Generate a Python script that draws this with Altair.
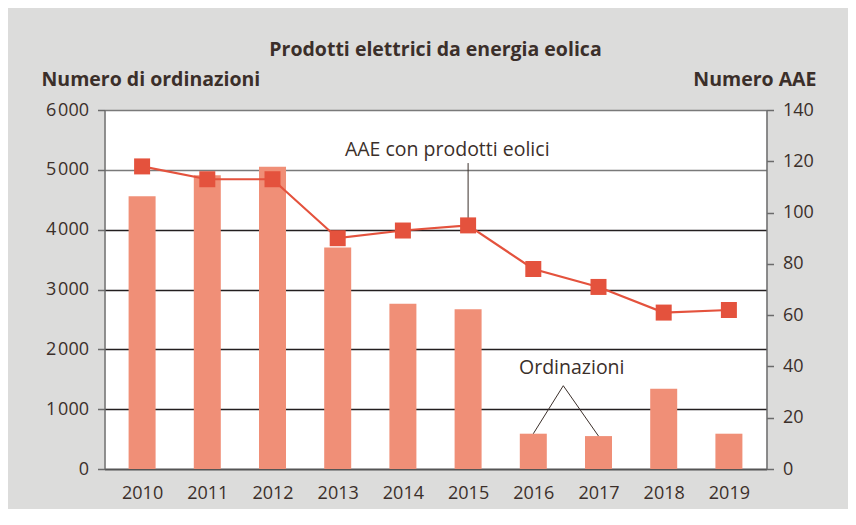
import altair as alt
import pandas as pd

# ---- data ----
years = [2010, 2011, 2012, 2013, 2014, 2015, 2016, 2017, 2018, 2019]
ordinazioni = [4560, 4910, 5050, 3700, 2760, 2670, 590, 550, 1340, 590]
aae = [118, 113, 113, 90, 93, 95, 78, 71, 61, 62]

left_ticks = [0, 1000, 2000, 3000, 4000, 5000, 6000]
right_ticks = [0, 20, 40, 60, 80, 100, 120, 140]

title_text = "Prodotti elettrici da energia eolica"
left_title = "Numero di ordinazioni"
right_title = "Numero AAE"

# annotations (data coordinates)
aae_label = ["AAE con prodotti eolici"]
aae_label_x = [2014.68]
aae_label_y = [124.4]
aae_leader_x = [2015]
aae_leader_y = [95]
aae_leader_y2 = [119.3]

ord_label = ["Ordinazioni"]
ord_label_x = [2016.59]
ord_label_y = [1693]
ord_leader_x = [2016, 2017]
ord_leader_y = [590, 550]
ord_apex_x = [2016.46, 2016.46]
ord_apex_y = [1392, 1392]

FONT = "Open Sans"
TXT = "#3b2f2a"
BAR = "#f08f77"
LINE = "#e4523d"

df = pd.DataFrame({"year": years, "ord": ordinazioni, "aae": aae})
df_aae_lab = pd.DataFrame({"year": aae_label_x, "aae": aae_label_y, "t": aae_label})
df_aae_lead = pd.DataFrame({"year": aae_leader_x, "aae": aae_leader_y, "aae2": aae_leader_y2})
df_ord_lab = pd.DataFrame({"year": ord_label_x, "ord": ord_label_y, "t": ord_label})
df_ord_lead = pd.DataFrame({"year": ord_leader_x, "ord": ord_leader_y,
                            "year2": ord_apex_x, "ord2": ord_apex_y})

xscale = alt.Scale(domain=[2009.5, 2019.5], nice=False, zero=False)
lscale = alt.Scale(domain=[0, 6000], nice=False)
rscale = alt.Scale(domain=[0, 140], nice=False)

x_axis = alt.Axis(values=years, format="d", title=None, grid=False, ticks=False,
                  domainColor="#555555", domainWidth=1.5, labelFont=FONT,
                  labelFontSize=18, labelColor=TXT, labelPadding=15)

left_axis = alt.Axis(
    values=left_ticks, title=left_title, orient="left",
    labelExpr="datum.value >= 1000 ? format(datum.value/1000,'d') + '\u200a000' : '0'",
    grid=True,
    gridColor={"condition": {"test": "datum.value >= 5000", "value": "#7a7a7a"},
               "value": "#231f20"},
    gridWidth=1.4,
    domainColor="#6b6b6b", domainWidth=1.5,
    tickColor="#6b6b6b", tickSize=7, tickWidth=1.5,
    labelFont=FONT, labelFontSize=18, labelColor=TXT, labelPadding=9,
    titleFont=FONT, titleFontSize=19.5, titleFontWeight="bold", titleColor=TXT,
    titleAngle=0, titleAlign="left", titleBaseline="alphabetic",
    titleX=-63.5, titleY=-25,
)

right_axis = alt.Axis(
    values=right_ticks, title=right_title, orient="right", grid=False,
    domainColor="#6b6b6b", domainWidth=1.5,
    tickColor="#6b6b6b", tickSize=7, tickWidth=1.5,
    labelFont=FONT, labelFontSize=18, labelColor=TXT, labelPadding=9,
    titleFont=FONT, titleFontSize=19.5, titleFontWeight="bold", titleColor=TXT,
    titleAngle=0, titleAlign="right", titleBaseline="alphabetic",
    titleX=49.5, titleY=-25,
)

X = alt.X("year:Q", scale=xscale, axis=x_axis)
YL = alt.Y("ord:Q", scale=lscale, axis=left_axis)
YR = alt.Y("aae:Q", scale=rscale, axis=right_axis)

bars = alt.Chart(df).mark_bar(size=27, color=BAR).encode(x=X, y=YL)

ord_lead = alt.Chart(df_ord_lead).mark_rule(color=TXT, strokeWidth=1).encode(
    x=X, x2="year2:Q", y=YL, y2="ord2:Q",
)

ord_text = alt.Chart(df_ord_lab).mark_text(
    font=FONT, fontSize=19.5, color=TXT, align="center", baseline="middle"
).encode(x=X, y=YL, text="t:N")

left_group = alt.layer(bars, ord_lead, ord_text)

aae_lead = alt.Chart(df_aae_lead).mark_rule(color=TXT, strokeWidth=1).encode(
    x=X, y=YR, y2="aae2:Q",
)

line = alt.Chart(df).mark_line(color=LINE, strokeWidth=2.2).encode(x=X, y=YR)

points = alt.Chart(df).mark_point(shape="square", size=256, filled=True,
                                  color=LINE, opacity=1).encode(x=X, y=YR)

aae_text = alt.Chart(df_aae_lab).mark_text(
    font=FONT, fontSize=19.5, color=TXT, align="center", baseline="middle"
).encode(x=X, y=YR, text="t:N")

right_group = alt.layer(aae_lead, line, points, aae_text)

chart = alt.layer(left_group, right_group).resolve_scale(y="independent").properties(
    width=662, height=359,
    autosize=alt.AutoSizeParams(type="none"),
    padding={"left": 96.5, "top": 102, "right": 81.5, "bottom": 40},
    background="#dcdcdb",
    title=alt.TitleParams(title_text, font=FONT, fontSize=19.5, fontWeight="bold",
                          color=TXT, anchor="middle", frame="group",
                          baseline="alphabetic", offset=41, dy=47),
).configure_view(fill="white", stroke=None)

chart.save("out.html", embed_options={"renderer": "svg", "actions": False})
